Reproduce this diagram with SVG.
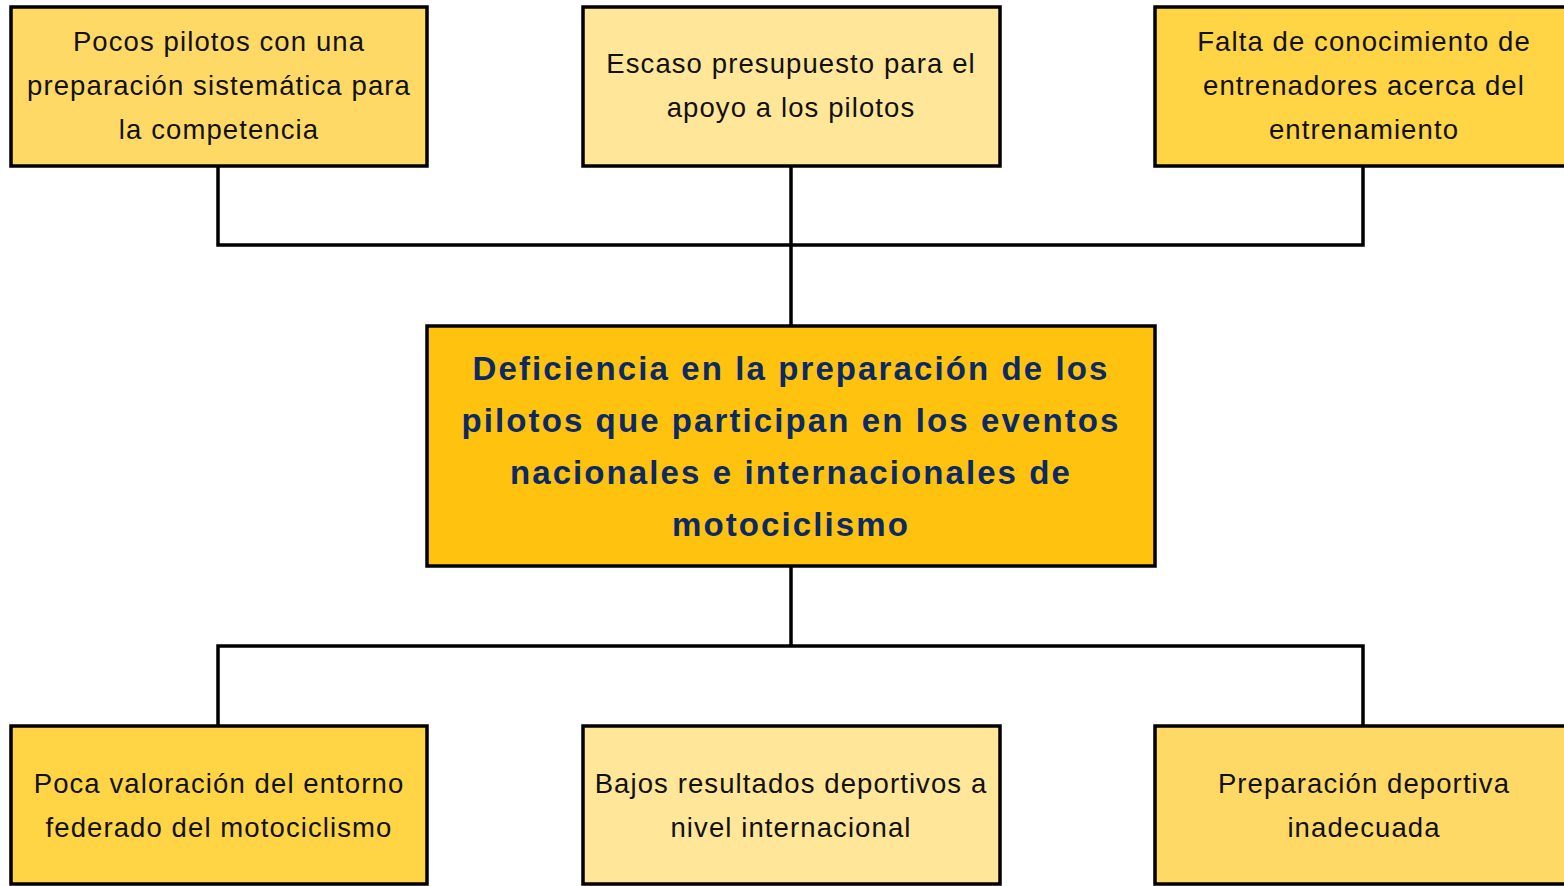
<svg xmlns="http://www.w3.org/2000/svg" width="1564" height="886" viewBox="0 0 1564 886">
<style>
.box{stroke:#000;stroke-width:3.5}
.t{font-family:"Liberation Sans",Arial,sans-serif;font-size:27.5px;fill:#111;text-anchor:middle;letter-spacing:1.1px}
.c{font-family:"Liberation Sans",Arial,sans-serif;font-size:33px;font-weight:bold;fill:#0B2A63;text-anchor:middle;letter-spacing:2.1px}
.ln{stroke:#000;stroke-width:3.5;fill:none}
</style>
<rect width="1564" height="886" fill="#fff"/>
<g id="connectors">
<path class="ln" d="M218 166V245H1363V166M791 166V325"/>
<path class="ln" d="M791 566V646M218 725V646H1363V725"/>
</g>
<g id="n1"><rect class="box" x="11" y="7" width="416" height="159" fill="#FFD966"/>
<text class="t"><tspan x="219" y="51">Pocos pilotos con una</tspan><tspan x="219" y="95">preparación sistemática para</tspan><tspan x="219" y="139">la competencia</tspan></text></g>
<g id="n2"><rect class="box" x="583" y="7" width="417" height="159" fill="#FFE699"/>
<text class="t"><tspan x="791" y="73">Escaso presupuesto para el</tspan><tspan x="791" y="117">apoyo a los pilotos</tspan></text></g>
<g id="n3"><rect class="box" x="1155" y="7" width="420" height="159" fill="#FFD445"/>
<text class="t"><tspan x="1364" y="51">Falta de conocimiento de</tspan><tspan x="1364" y="95">entrenadores acerca del</tspan><tspan x="1364" y="139">entrenamiento</tspan></text></g>
<g id="center"><rect class="box" x="427" y="326" width="728" height="240" fill="#FFC20E"/>
<text class="c"><tspan x="791" y="380">Deficiencia en la preparación de los</tspan><tspan x="791" y="432">pilotos que participan en los eventos</tspan><tspan x="791" y="484">nacionales e internacionales de</tspan><tspan x="791" y="536">motociclismo</tspan></text></g>
<g id="n4"><rect class="box" x="11" y="726" width="416" height="158" fill="#FFD445"/>
<text class="t"><tspan x="219" y="793">Poca valoración del entorno</tspan><tspan x="219" y="837">federado del motociclismo</tspan></text></g>
<g id="n5"><rect class="box" x="583" y="726" width="417" height="158" fill="#FFE699"/>
<text class="t"><tspan x="791" y="793">Bajos resultados deportivos a</tspan><tspan x="791" y="837">nivel internacional</tspan></text></g>
<g id="n6"><rect class="box" x="1155" y="726" width="420" height="158" fill="#FFD966"/>
<text class="t"><tspan x="1364" y="793">Preparación deportiva</tspan><tspan x="1364" y="837">inadecuada</tspan></text></g>
</svg>
